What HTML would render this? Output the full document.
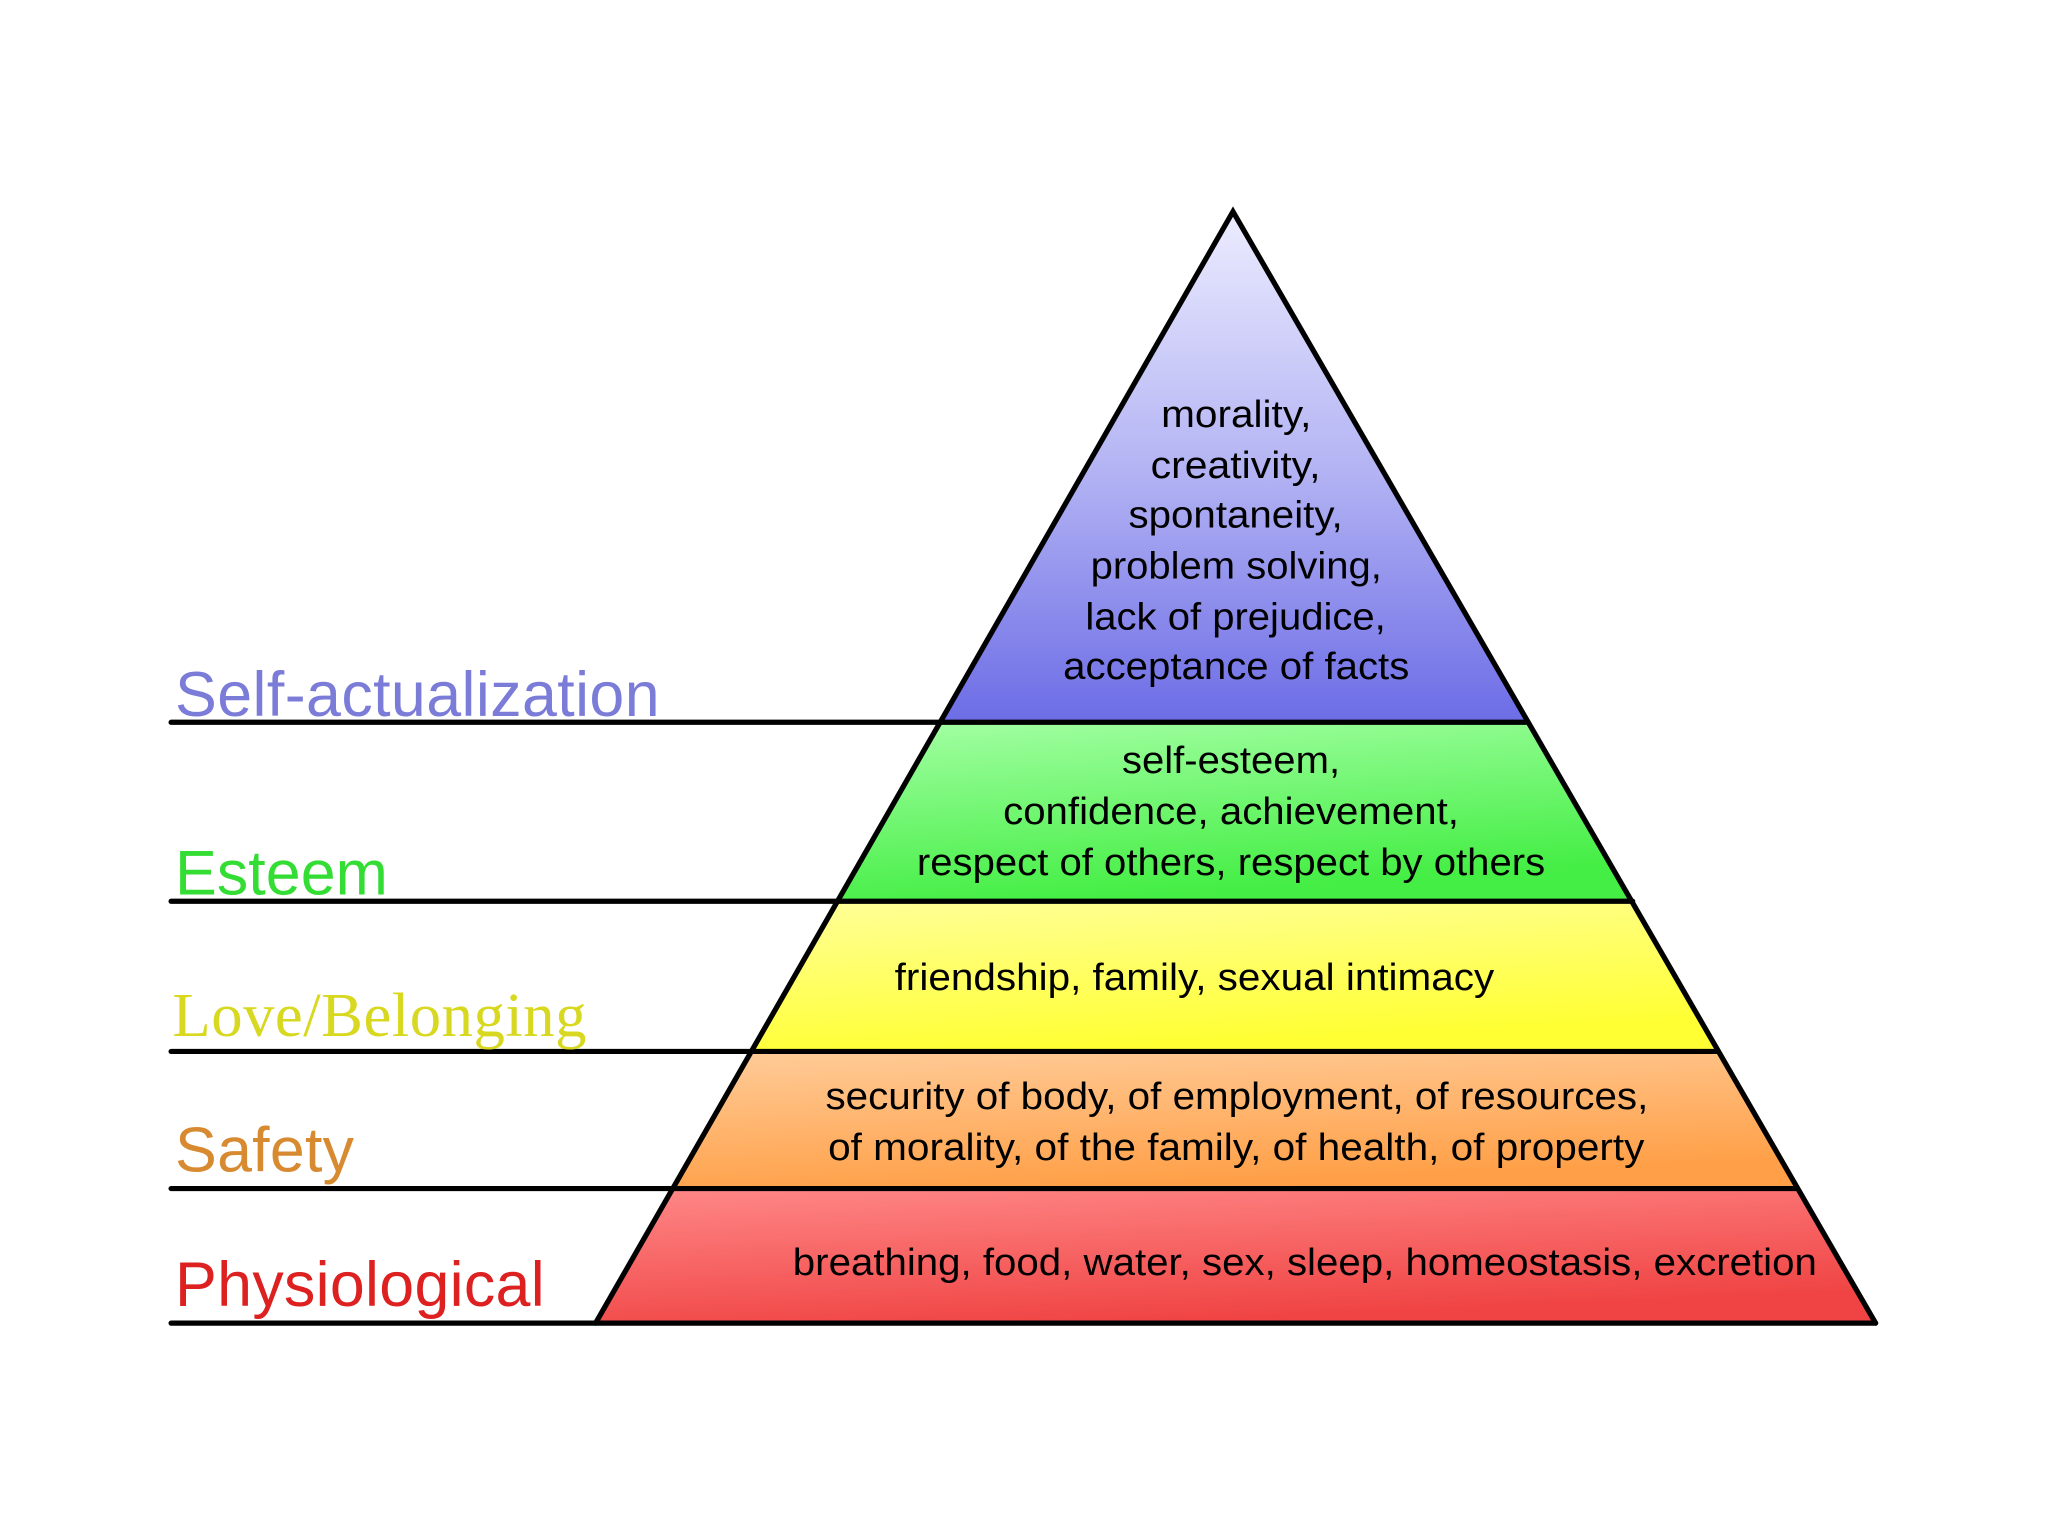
<!DOCTYPE html>
<html><head><meta charset="utf-8"><style>html,body{margin:0;padding:0;background:#fff;}svg{display:block}</style></head>
<body>
<svg width="2048" height="1536" viewBox="0 0 1568 1176" preserveAspectRatio="none" xmlns="http://www.w3.org/2000/svg">
<defs>
<linearGradient id="gp" x1="0" y1="0" x2="0" y2="1"><stop offset="0" stop-color="#ececff"/><stop offset="0.5" stop-color="#b4b4f4"/><stop offset="1" stop-color="#6c6ce6"/></linearGradient>
<linearGradient id="gg" x1="0" y1="0" x2="0.3" y2="1"><stop offset="0" stop-color="#a4ffa4"/><stop offset="1" stop-color="#44ee44"/></linearGradient>
<linearGradient id="gy" x1="0" y1="0" x2="0.3" y2="1"><stop offset="0" stop-color="#ffff99"/><stop offset="1" stop-color="#ffff33"/></linearGradient>
<linearGradient id="go" x1="0" y1="0" x2="0.3" y2="1"><stop offset="0" stop-color="#ffcc99"/><stop offset="1" stop-color="#ffa048"/></linearGradient>
<linearGradient id="gr" x1="0" y1="0" x2="0.4" y2="1"><stop offset="0" stop-color="#ff8888"/><stop offset="1" stop-color="#f04444"/></linearGradient>
</defs>
<polygon points="944,162 1170,553 720,553" fill="url(#gp)"/>
<polygon points="720,553 1170,553 1250,690 640,690" fill="url(#gg)"/>
<polygon points="640,690 1250,690 1315,805 575,805" fill="url(#gy)"/>
<polygon points="575,805 1315,805 1375,910 515,910" fill="url(#go)"/>
<polygon points="515,910 1375,910 1436,1013 456,1013" fill="url(#gr)"/>
<g stroke="#000" stroke-width="4" fill="none" stroke-linecap="round">
<polyline points="456,1013 944,162 1436,1013"/>
<line x1="131" y1="553" x2="1170" y2="553"/>
<line x1="131" y1="690" x2="1250" y2="690"/>
<line x1="131" y1="805" x2="1315" y2="805"/>
<line x1="131" y1="910" x2="1375" y2="910"/>
<line x1="131" y1="1013" x2="1436" y2="1013"/>
</g>
<g font-family="Liberation Sans, sans-serif" font-size="48">
<text x="134" y="548" fill="#7b7bd8" textLength="371">Self-actualization</text>
<text x="134" y="685" fill="#33dd33" textLength="163">Esteem</text>
<text x="132" y="793" fill="#d8d820" font-family="Liberation Serif, serif" textLength="317">Love/Belonging</text>
<text x="134" y="897" fill="#d88a30" textLength="137">Safety</text>
<text x="134" y="1000" fill="#dd2020" textLength="283">Physiological</text>
</g>
<g font-family="Liberation Sans, sans-serif" font-size="29" fill="#000" lengthAdjust="spacingAndGlyphs">
<text x="889" y="327" textLength="115" lengthAdjust="spacingAndGlyphs">morality,</text>
<text x="881" y="366" textLength="130" lengthAdjust="spacingAndGlyphs">creativity,</text>
<text x="864" y="404" textLength="164" lengthAdjust="spacingAndGlyphs">spontaneity,</text>
<text x="835" y="443" textLength="223" lengthAdjust="spacingAndGlyphs">problem solving,</text>
<text x="831" y="482" textLength="230" lengthAdjust="spacingAndGlyphs">lack of prejudice,</text>
<text x="814" y="520" textLength="265" lengthAdjust="spacingAndGlyphs">acceptance of facts</text>
<text x="859" y="592" textLength="167" lengthAdjust="spacingAndGlyphs">self-esteem,</text>
<text x="768" y="631" textLength="349" lengthAdjust="spacingAndGlyphs">confidence, achievement,</text>
<text x="702" y="670" textLength="481" lengthAdjust="spacingAndGlyphs">respect of others, respect by others</text>
<text x="685" y="758" textLength="459" lengthAdjust="spacingAndGlyphs">friendship, family, sexual intimacy</text>
<text x="632" y="849" textLength="630" lengthAdjust="spacingAndGlyphs">security of body, of employment, of resources,</text>
<text x="634" y="888" textLength="625" lengthAdjust="spacingAndGlyphs">of morality, of the family, of health, of property</text>
<text x="607" y="976" textLength="784" lengthAdjust="spacingAndGlyphs">breathing, food, water, sex, sleep, homeostasis, excretion</text>
</g>
</svg>
</body></html>
